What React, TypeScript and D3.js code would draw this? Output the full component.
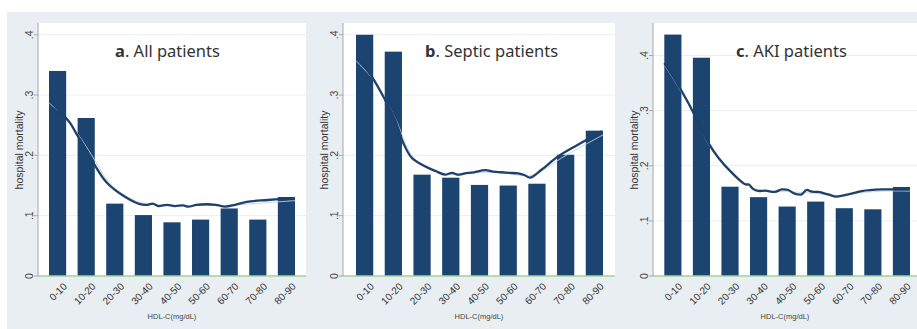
import React from 'react';
import * as d3 from 'd3';

// HDL-C groups (mg/dL)
const groups = ['0-10', '10-20', '20-30', '30-40', '40-50', '50-60', '60-70', '70-80', '80-90'];

// observed hospital mortality per group
const allBars = [0.340, 0.262, 0.120, 0.101, 0.089, 0.0935, 0.112, 0.0935, 0.131];
const septicBars = [0.400, 0.372, 0.168, 0.163, 0.151, 0.150, 0.153, 0.201, 0.241];
const akiBars = [0.438, 0.396, 0.162, 0.143, 0.126, 0.135, 0.123, 0.121, 0.1615];

// smoothed curve, [HDL-C, mortality]
const allCurve: [number, number][] = [
  [0.4, 0.291], [4, 0.272], [7.7, 0.254], [10, 0.236], [12.5, 0.218], [16.2, 0.188], [21.1, 0.155],
  [27.2, 0.133], [33.3, 0.119], [36, 0.118], [38, 0.120], [40, 0.116], [43.1, 0.118], [46, 0.116],
  [49.1, 0.117], [51, 0.115], [54, 0.118], [57.7, 0.119], [61, 0.118], [64.4, 0.115], [68, 0.118],
  [72.3, 0.123], [80, 0.126], [89.4, 0.129],
];
const septicCurve: [number, number][] = [
  [0.6, 0.361], [5.7, 0.331], [10.6, 0.292], [14.2, 0.259], [17.2, 0.221], [20.3, 0.196],
  [25.1, 0.182], [29, 0.174], [32.4, 0.168], [35, 0.171], [37, 0.168], [39.7, 0.170], [43, 0.172],
  [47, 0.1755], [50, 0.173], [53.1, 0.172], [56, 0.171], [59.1, 0.170], [61.5, 0.167], [63.4, 0.163],
  [67.7, 0.1766], [73.7, 0.1985], [81, 0.218], [89.5, 0.240],
];
const akiCurve: [number, number][] = [
  [0, 0.386], [3.9, 0.356], [8.8, 0.314], [12.5, 0.278], [16.1, 0.242], [19.8, 0.2146],
  [24.7, 0.1875], [29.6, 0.1664], [31, 0.166], [32.5, 0.158], [34.4, 0.1543], [37, 0.155],
  [40.5, 0.1525], [43, 0.157], [45.4, 0.156], [47.5, 0.150], [50.3, 0.148], [52, 0.156],
  [54, 0.153], [56.4, 0.1525], [60, 0.148], [63.1, 0.144], [67.4, 0.148], [72.3, 0.154],
  [79.6, 0.157], [89.4, 0.157],
];

// thin light fit drawn alongside the curve
const allFit: [number, number][] = [
  [0, 0.287], [6, 0.262], [12, 0.226], [17, 0.19], [22, 0.155], [28, 0.133], [35, 0.12],
  [45, 0.117], [55, 0.117], [65, 0.117], [75, 0.12], [90, 0.125],
];
const septicFit: [number, number][] = [
  [0, 0.357], [6, 0.327], [11, 0.29], [15, 0.255], [18, 0.22], [21, 0.196], [26, 0.181],
  [33, 0.169], [45, 0.172], [55, 0.17], [63, 0.166], [68, 0.175], [75, 0.196], [82, 0.214], [90, 0.234],
];
const akiFit: [number, number][] = [
  [0, 0.383], [4, 0.352], [9, 0.31], [13, 0.273], [16, 0.24], [20, 0.213], [25, 0.186],
  [30, 0.166], [35, 0.155], [45, 0.153], [55, 0.15], [63, 0.146], [70, 0.15], [80, 0.154], [90, 0.154],
];

const yTicks = [0, 0.1, 0.2, 0.3, 0.4];
const yTickLabels = ['0', '.1', '.2', '.3', '.4'];

const panels = [
  {
    letter: 'a', title: '. All patients', bars: allBars, curve: allCurve, fit: allFit, yMax: 0.4195,
    plot: [38, 306], barRange: [49, 295], titleX: 115,
  },
  {
    letter: 'b', title: '. Septic patients', bars: septicBars, curve: septicCurve, fit: septicFit, yMax: 0.4195,
    plot: [343, 615], barRange: [356, 603], titleX: 425,
  },
  {
    letter: 'c', title: '. AKI patients', bars: akiBars, curve: akiCurve, fit: akiFit, yMax: 0.459,
    plot: [653, 925], barRange: [664.3, 910], titleX: 736,
  },
];

const W = 917;
const H = 329;
const top = 23;
const base = 276;
const axisFont = '"Liberation Sans", Arial, sans-serif';

const Panel = ({ p }: { p: typeof panels[number] }) => {
  const [left, right] = p.plot;
  const x = d3.scaleBand().domain(groups).range(p.barRange as [number, number]).paddingInner(0.4).paddingOuter(0);
  const xc = d3.scaleLinear().domain([0, 90]).range(p.barRange as [number, number]);
  const y = d3.scaleLinear().domain([0, p.yMax]).range([base, top]);
  const line = d3.line<[number, number]>()
    .x((d) => xc(d[0]))
    .y((d) => y(d[1]))
    .curve(d3.curveCatmullRom);
  const mid = (left + Math.min(right, 917)) / 2;

  return (
    <g>
      <rect x={left} y={top} width={right - left} height={base - top} fill="#ffffff" />
      {yTicks.slice(1).map((t) => (
        <line key={t} x1={left} x2={right} y1={y(t)} y2={y(t)} stroke="#eaeef2" strokeWidth={1} />
      ))}
      {groups.map((g, i) => (
        <rect key={g} x={x(g)} y={y(p.bars[i])} width={x.bandwidth()} height={base - y(p.bars[i])} fill="#1b4470" />
      ))}
      <path d={line(p.fit) || ''} fill="none" stroke="#c3d1df" strokeWidth={0.9} />
      <path d={line(p.curve) || ''} fill="none" stroke="#1d416b" strokeWidth={2.3} strokeLinejoin="round" />
      <line x1={left} x2={right} y1={base} y2={base} stroke="#9fd29a" strokeWidth={1.3} />
      <line x1={left} x2={left} y1={top} y2={base} stroke="#a4a8ad" strokeWidth={1} />
      {yTicks.map((t, i) => (
        <g key={t}>
          <line x1={left - 4} x2={left} y1={y(t)} y2={y(t)} stroke="#a4a8ad" strokeWidth={1} />
          <text
            transform={`translate(${left - 5},${y(t)}) rotate(-90)`}
            textAnchor="middle"
            fontFamily={axisFont}
            fontSize={10.5}
            fill="#444"
          >
            {yTickLabels[i]}
          </text>
        </g>
      ))}
      {groups.map((g) => (
        <text
          key={g}
          transform={`translate(${(x(g) as number) + x.bandwidth() / 2 + 5},${base + 6}) rotate(-45)`}
          textAnchor="end"
          dominantBaseline="hanging"
          fontFamily={axisFont}
          fontSize={10}
          fill="#333"
        >
          {g}
        </text>
      ))}
      <text x={mid} y={319} textAnchor="middle" fontFamily={axisFont} fontSize={7.5} fill="#444">
        HDL-C(mg/dL)
      </text>
      <text
        transform={`translate(${left - 15},150) rotate(-90)`}
        textAnchor="middle"
        fontFamily={axisFont}
        fontSize={10.5}
        fill="#333"
      >
        hospital mortality
      </text>
      <text x={p.titleX} y={57} fontFamily='"Noto Sans", sans-serif' fontSize={16.5} fill="#333">
        <tspan fontWeight="bold">{p.letter}</tspan>
        {p.title}
      </text>
    </g>
  );
};

const App = () => (
  <svg width={W} height={H} style={{ position: 'absolute', left: 0, top: 0 }}>
    <rect x={0} y={0} width={W} height={H} fill="#ffffff" />
    <rect x={7} y={12} width={W - 7} height={H - 12} fill="#e9eef2" />
    {panels.map((p) => (
      <Panel key={p.letter} p={p} />
    ))}
  </svg>
);

export default App;
